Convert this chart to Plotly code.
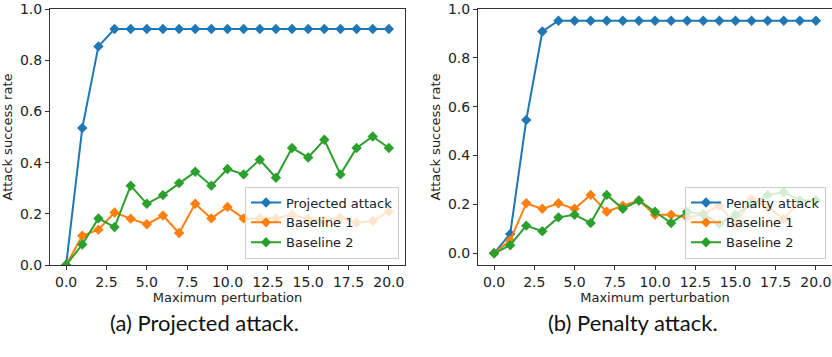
import plotly.graph_objects as go

x_vals = list(range(21))

# (a) Projected attack
proj_attack = [0.0, 0.535, 0.854] + [0.922] * 18
proj_base1 = [0.0, 0.114, 0.138, 0.205, 0.181, 0.159, 0.193, 0.125, 0.239, 0.182,
              0.227, 0.182, 0.182, 0.183, 0.196, 0.180, 0.172, 0.185, 0.165, 0.172, 0.209]
proj_base2 = [0.0, 0.080, 0.182, 0.148, 0.310, 0.239, 0.273, 0.320, 0.364, 0.310,
              0.375, 0.354, 0.411, 0.341, 0.457, 0.420, 0.489, 0.354, 0.457, 0.502, 0.457]

# (b) Penalty attack
pen_attack = [0.0, 0.079, 0.546, 0.908] + [0.952] * 17
pen_base1 = [0.0, 0.052, 0.205, 0.182, 0.205, 0.182, 0.239, 0.170, 0.195, 0.216,
             0.158, 0.158, 0.147, 0.160, 0.195, 0.120, 0.222, 0.190, 0.140, 0.216, 0.216]
pen_base2 = [0.0, 0.033, 0.113, 0.090, 0.147, 0.158, 0.124, 0.239, 0.182, 0.216,
             0.170, 0.124, 0.170, 0.160, 0.120, 0.158, 0.200, 0.239, 0.250, 0.216, 0.216]

x_ticks = [0, 2.5, 5, 7.5, 10, 12.5, 15, 17.5, 20]
x_tick_labels = ["0.0", "2.5", "5.0", "7.5", "10.0", "12.5", "15.0", "17.5", "20.0"]
y_ticks = [0, 0.2, 0.4, 0.6, 0.8, 1.0]
y_tick_labels = ["0.0", "0.2", "0.4", "0.6", "0.8", "1.0"]

names_a = ["Projected attack", "Baseline 1", "Baseline 2"]
names_b = ["Penalty attack", "Baseline 1", "Baseline 2"]
captions = ["(a) Projected attack.", "(b) Penalty attack."]
colors = ["#1f77b4", "#ff7f0e", "#2ca02c"]

W, H = 832, 357
ML, MR, MT, MB = 50, 0, 9, 92
PW = W - ML - MR
PH = H - MT - MB

def px_x(p):
    return (p - ML) / PW

def px_y(p):
    return (H - MB - p) / PH

fig = go.Figure()

for series, name, c in zip([proj_attack, proj_base1, proj_base2], names_a, colors):
    fig.add_trace(go.Scatter(x=x_vals, y=series, name=name, mode="lines+markers",
                             line=dict(color=c, width=2),
                             marker=dict(symbol="diamond", size=8, color=c),
                             xaxis="x", yaxis="y", legend="legend"))
for series, name, c in zip([pen_attack, pen_base1, pen_base2], names_b, colors):
    fig.add_trace(go.Scatter(x=x_vals, y=series, name=name, mode="lines+markers",
                             line=dict(color=c, width=2),
                             marker=dict(symbol="diamond", size=8, color=c),
                             xaxis="x2", yaxis="y2", legend="legend2"))

axis_common = dict(showgrid=False, zeroline=False, showline=True, linecolor="#333333",
                   linewidth=1, mirror=True, ticks="outside", ticklen=4, tickwidth=1,
                   tickcolor="#333333",
                   tickfont=dict(family="DejaVu Sans", size=14, color="#222222"))
title_font = dict(family="DejaVu Sans", size=13, color="#222222")

fig.update_layout(
    width=W, height=H, margin=dict(l=ML, r=MR, t=MT, b=MB),
    plot_bgcolor="white", paper_bgcolor="white", showlegend=True,
    xaxis=dict(domain=[0, px_x(405)], range=[-1, 21], tickvals=x_ticks,
               ticktext=x_tick_labels, anchor="y",
               title=dict(text="Maximum perturbation", font=title_font, standoff=0),
               **axis_common),
    yaxis=dict(domain=[0, 1], range=[0, 1.0], tickvals=y_ticks, ticktext=y_tick_labels,
               anchor="x", title=dict(text="Attack success rate", font=title_font, standoff=4),
               **axis_common),
    xaxis2=dict(domain=[px_x(478), px_x(832)], range=[-1, 21], tickvals=x_ticks,
                ticktext=x_tick_labels, anchor="y2",
                title=dict(text="Maximum perturbation", font=title_font, standoff=0),
                **axis_common),
    yaxis2=dict(domain=[0, 1], range=[-0.048, 1.0], tickvals=y_ticks, ticktext=y_tick_labels,
                anchor="x2", title=dict(text="Attack success rate", font=title_font, standoff=4),
                **axis_common),
    legend=dict(x=px_x(399), y=px_y(258.5), xanchor="right", yanchor="bottom",
                bgcolor="rgba(255,255,255,0.8)", bordercolor="#cccccc", borderwidth=1,
                font=dict(family="DejaVu Sans", size=13, color="#222222"),
                tracegroupgap=0, itemwidth=30),
    legend2=dict(x=px_x(826), y=px_y(258.5), xanchor="right", yanchor="bottom",
                 bgcolor="rgba(255,255,255,0.8)", bordercolor="#cccccc", borderwidth=1,
                 font=dict(family="DejaVu Sans", size=13, color="#222222"),
                 tracegroupgap=0, itemwidth=30),
    annotations=[
        dict(text=captions[0], x=px_x(204), y=px_y(322), xref="paper", yref="paper",
             showarrow=False, xanchor="center", yanchor="middle",
             font=dict(family="Lato", size=22, color="#111111")),
        dict(text=captions[1], x=px_x(633), y=px_y(322), xref="paper", yref="paper",
             showarrow=False, xanchor="center", yanchor="middle",
             font=dict(family="Lato", size=22, color="#111111")),
    ],
)

fig.write_html("out.html")
